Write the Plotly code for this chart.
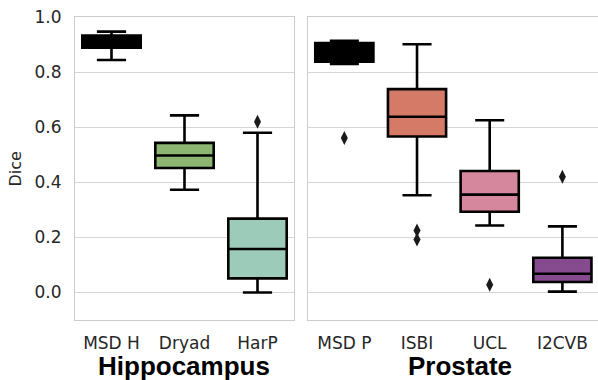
import plotly.graph_objects as go

# ---- data ----
hippo_categories = ["MSD H", "Dryad", "HarP"]
hippo_q1 = [0.889, 0.452, 0.051]
hippo_median = [0.910, 0.497, 0.158]
hippo_q3 = [0.933, 0.543, 0.268]
hippo_lower = [0.844, 0.373, 0.000]
hippo_upper = [0.947, 0.643, 0.580]
hippo_colors = ["#000000", "#8db672", "#9dcbba"]
hippo_outlier_x = ["HarP"]
hippo_outlier_y = [0.620]

prostate_categories = ["MSD P", "ISBI", "UCL", "I2CVB"]
prostate_q1 = [0.838, 0.566, 0.293, 0.038]
prostate_median = [0.870, 0.638, 0.355, 0.068]
prostate_q3 = [0.905, 0.738, 0.441, 0.126]
prostate_lower = [0.830, 0.353, 0.243, 0.003]
prostate_upper = [0.914, 0.901, 0.625, 0.240]
prostate_colors = ["#000000", "#d57a66", "#d5879e", "#864a8f"]
prostate_outlier_x = ["MSD P", "ISBI", "ISBI", "UCL", "I2CVB"]
prostate_outlier_y = [0.561, 0.225, 0.192, 0.028, 0.420]

y_ticks = [0.0, 0.2, 0.4, 0.6, 0.8, 1.0]
y_ticktext = ["0.0", "0.2", "0.4", "0.6", "0.8", "1.0"]

# ---- figure ----
W, H = 598, 380
ML, MR, MT, MB = 75, 0, 17, 60
PW = W - ML - MR
PH = H - MT - MB

fig = go.Figure()

def add_boxes(cats, q1, med, q3, lo, hi, colors, xa, ya):
    for i, c in enumerate(cats):
        fig.add_trace(go.Box(
            x=[c], q1=[q1[i]], median=[med[i]], q3=[q3[i]],
            lowerfence=[lo[i]], upperfence=[hi[i]],
            width=0.8, whiskerwidth=0.5,
            fillcolor=colors[i],
            line=dict(color="#000000", width=2.6),
            xaxis=xa, yaxis=ya, showlegend=False, hoverinfo="skip",
        ))

add_boxes(hippo_categories, hippo_q1, hippo_median, hippo_q3, hippo_lower,
          hippo_upper, hippo_colors, "x", "y")
add_boxes(prostate_categories, prostate_q1, prostate_median, prostate_q3,
          prostate_lower, prostate_upper, prostate_colors, "x2", "y2")

flier = dict(symbol="diamond-tall", size=10, color="#1a1a1a", line=dict(width=0))
fig.add_trace(go.Scatter(x=hippo_outlier_x, y=hippo_outlier_y, mode="markers",
                         marker=flier, xaxis="x", yaxis="y", showlegend=False))
fig.add_trace(go.Scatter(x=prostate_outlier_x, y=prostate_outlier_y, mode="markers",
                         marker=flier, xaxis="x2", yaxis="y2", showlegend=False))

spine = "#cccccc"
grid = "#d6d6d6"
tickfont = dict(family="DejaVu Sans", size=17, color="#262626")

left_end = 219 / PW
right_start = 233 / PW

fig.update_layout(
    width=W, height=H,
    margin=dict(l=ML, r=MR, t=MT, b=MB, pad=0),
    paper_bgcolor="white", plot_bgcolor="white",
    showlegend=False,
    xaxis=dict(domain=[0, left_end], type="category",
               categoryorder="array", categoryarray=hippo_categories,
               range=[-0.5, 2.5], showgrid=False, zeroline=False,
               showline=True, linecolor=spine, linewidth=1.25, mirror=True,
               ticks="outside", ticklen=7, tickcolor="rgba(0,0,0,0)",
               tickfont=tickfont, fixedrange=True),
    xaxis2=dict(domain=[right_start, 1], type="category", anchor="y2",
                categoryorder="array", categoryarray=prostate_categories,
                range=[-0.5, 3.49], showgrid=False, zeroline=False,
                showline=True, linecolor=spine, linewidth=1.25, mirror=True,
                ticks="outside", ticklen=7, tickcolor="rgba(0,0,0,0)",
                tickfont=tickfont, fixedrange=True),
    yaxis=dict(domain=[0, 1], range=[-0.1, 1.0], tickvals=y_ticks,
               ticktext=y_ticktext, showgrid=True, gridcolor=grid, gridwidth=1.2,
               zeroline=False, showline=True, linecolor=spine, linewidth=1.25,
               mirror=True, ticks="outside", ticklen=9,
               tickcolor="rgba(0,0,0,0)", tickfont=tickfont, fixedrange=True),
    yaxis2=dict(domain=[0, 1], anchor="x2", range=[-0.1, 1.0], tickvals=y_ticks,
                showticklabels=False, showgrid=True, gridcolor=grid, gridwidth=1.2,
                zeroline=False, showline=True, linecolor=spine, linewidth=1.25,
                mirror=False, ticks="", fixedrange=True),
)

def px_x(px):
    return (px - ML) / PW

def px_y(py):
    return (H - MB - py) / PH

fig.add_annotation(text="Dice", x=px_x(14.5), y=px_y(169), xref="paper", yref="paper",
                   textangle=-90, showarrow=False, xanchor="center", yanchor="middle",
                   font=dict(family="DejaVu Sans", size=16, color="#262626"))
fig.add_annotation(text="<b>Hippocampus</b>", x=px_x(184), y=px_y(366),
                   xref="paper", yref="paper", showarrow=False,
                   xanchor="center", yanchor="middle",
                   font=dict(family="Liberation Sans", size=26, color="#000000"))
fig.add_annotation(text="<b>Prostate</b>", x=px_x(459.5), y=px_y(366),
                   xref="paper", yref="paper", showarrow=False,
                   xanchor="center", yanchor="middle",
                   font=dict(family="Liberation Sans", size=26, color="#000000"))

fig.write_html("out.html")
